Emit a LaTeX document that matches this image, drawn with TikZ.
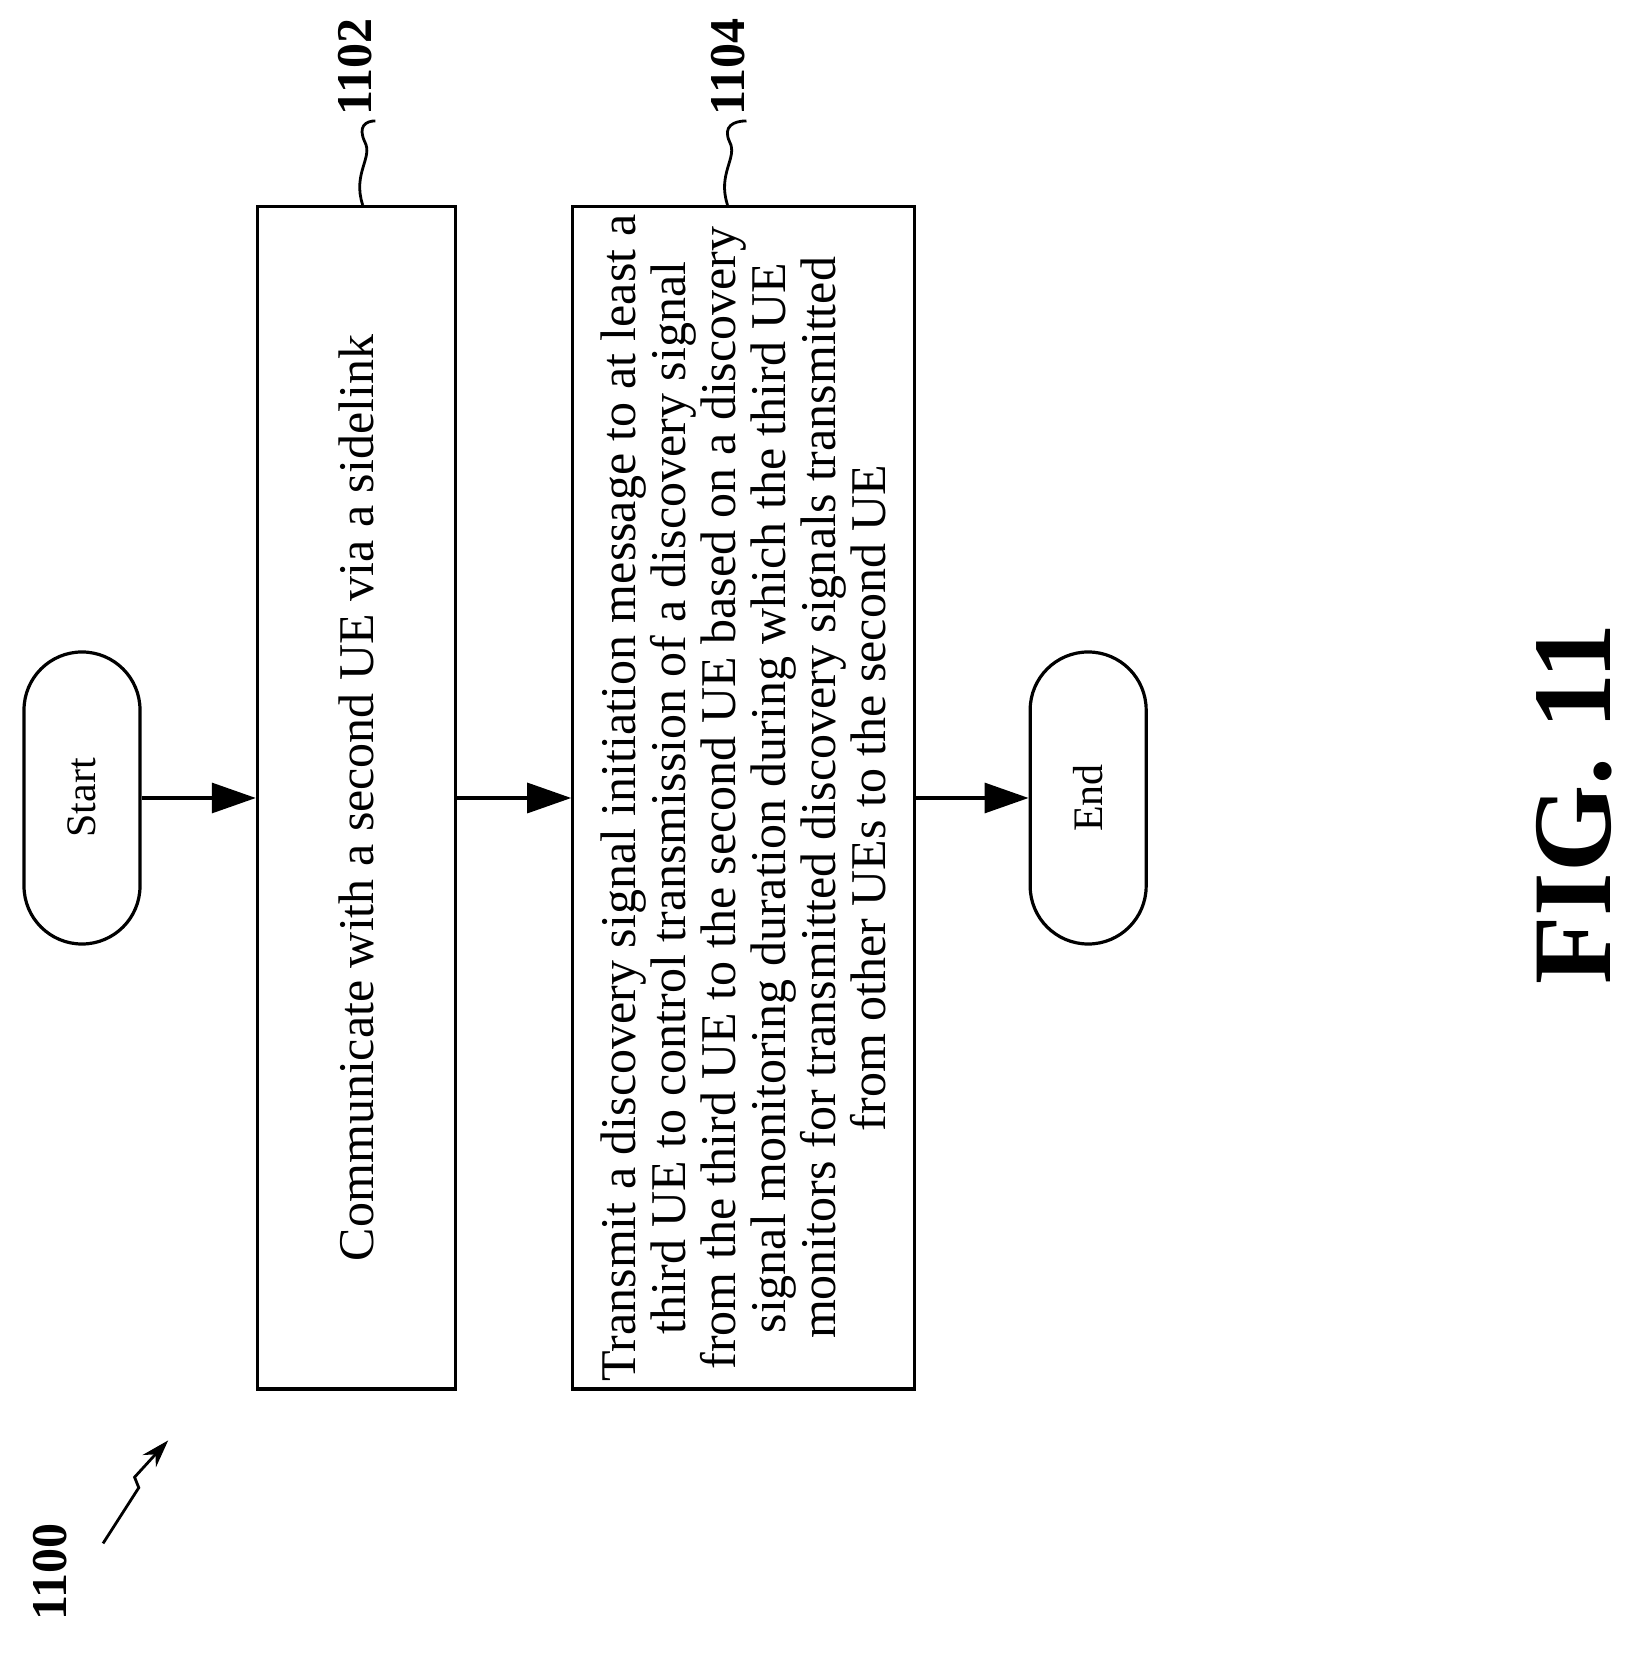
\documentclass[tikz,border=0pt]{standalone}
\usepackage{fontspec}
\setmainfont{Liberation Serif}
\usetikzlibrary{arrows.meta}
\begin{document}
\begin{tikzpicture}[x=0.5256pt,y=-0.5256pt,
  box/.style={draw,line width=1.6pt,inner sep=0pt},
  term/.style={draw,line width=1.6pt,rounded corners=29pt,inner sep=0pt},
  arr/.style={line width=1.6pt,-{Triangle[length=22pt,width=15pt]}},
  lbl/.style={font=\bfseries\fontsize{25}{27}\selectfont,rotate=90},
  txt/.style={rotate=90,align=center,font=\fontsize{25}{25}\selectfont}]
\useasboundingbox (0,0) rectangle (1560,1577);
\node[term,minimum width=58pt,minimum height=146pt] (start) at (78,759) {};
\node[txt,font=\fontsize{21}{22}\selectfont] at (start) {Start};
\node[box,minimum width=99pt,minimum height=591pt] (b1) at (339,759) {};
\node[txt] at (b1) {Communicate with a second UE via a sidelink};
\node[box,minimum width=171pt,minimum height=591pt] (b2) at (707.5,759) {};
\node[txt] at (b2) {Transmit a discovery signal initiation message to at least a\\third UE to control transmission of a discovery signal\\from the third UE to the second UE based on a discovery\\signal monitoring duration during which the third UE\\monitors for transmitted discovery signals transmitted\\from other UEs to the second UE};
\node[term,minimum width=58pt,minimum height=146pt] (end) at (1035,759) {};
\node[txt,font=\fontsize{21}{22}\selectfont] at (end) {End};
\draw[arr] (start.east) -- (b1.west);
\draw[arr] (b1.east) -- (b2.west);
\draw[arr] (b2.east) -- (end.west);
\node[lbl] (l1) at (338,64) {1102};
\node[lbl] (l2) at (693,64) {1104};
\coordinate (c1) at (345,195);
\coordinate (c2) at (692,195);
\draw[line width=1.4pt] (c1) .. controls (335,165) and (355,150) .. (347,135) .. controls (340,120) and (348,115) .. (357,115);
\draw[line width=1.4pt] (c2) .. controls (682,165) and (702,150) .. (694,135) .. controls (687,120) and (698,115) .. (710,115);
\node[lbl] (l0) at (48,1495) {1100};
\coordinate (z0) at (98,1468);
\coordinate (z1) at (160,1370);
\draw[line width=1.4pt,-{Stealth[length=14pt,width=9pt]}] (z0) -- (132,1415) -- (128,1405) -- (z1);
\node[rotate=90,font=\bfseries\fontsize{56}{60}\selectfont] (fig) at (1497,765) {FIG. 11};
\end{tikzpicture}
\end{document}
